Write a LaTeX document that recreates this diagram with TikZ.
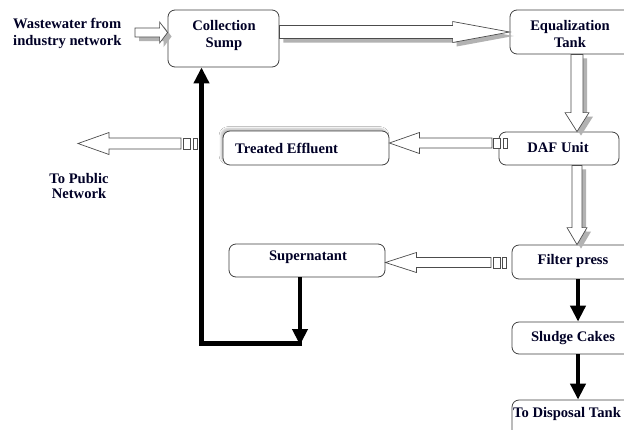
\documentclass[tikz,border=0pt]{standalone}
\usepackage{fontspec}
\setmainfont{Liberation Serif}
\usetikzlibrary{calc,arrows.meta,shadows.blur}
\tikzset{
  box/.style={draw=black!75, line width=0.8pt, rounded corners=7pt, fill=white, inner sep=0pt},
  lbl/.style={font=\bfseries\fontsize{14.6}{17}\selectfont, text=black!85!blue, inner sep=0pt, align=center},
  hollow/.style={draw=black!70, line width=0.7pt, fill=white, line join=miter},
  hshadow/.style={fill=black!30, draw=none},
  thickarrow/.style={line width=4.5pt, -{Triangle[width=15pt,length=16pt]}},
  thickline/.style={line width=4.5pt},
  tailbox/.style={draw=black!70, line width=0.7pt, fill=white, inner sep=0pt, minimum height=10pt},
}
\newcommand\mkblockarrow[6]{%
  \coordinate (ba-s) at (#2);
  \coordinate (ba-e) at (#3);
  \coordinate (ba-h) at ($(ba-e)!#6!(ba-s)$);
  \path[#1] ($(ba-s)!#4!90:(ba-e)$) -- ($(ba-h)!#4!-90:(ba-s)$) -- ($(ba-h)!#5!-90:(ba-s)$) -- (ba-e)
    -- ($(ba-h)!#5!90:(ba-s)$) -- ($(ba-h)!#4!90:(ba-s)$) -- ($(ba-s)!#4!-90:(ba-e)$) -- cycle;
}
\begin{document}
\begin{tikzpicture}[x=1pt,y=-1pt]
\clip (0,0) rectangle (624,429);
\fill[white] (0,0) rectangle (624,429);

% boxes
\node[box, minimum width=111pt, minimum height=57pt] (sump) at (223.5,38.5) {};
\node[box, minimum width=124pt, minimum height=44pt] (eq) at (572,32) {};
\node[box, minimum width=120pt, minimum height=33pt] (daf) at (559,148.5) {};
\node[box, minimum width=166pt, minimum height=34pt,
      blur shadow={shadow xshift=-2pt,shadow yshift=2.5pt,shadow opacity=25,shadow blur steps=6,shadow blur extra rounding=2pt}] (treat) at (306,148) {};
\node[box, minimum width=122pt, minimum height=34pt] (filt) at (573,262) {};
\node[box, minimum width=122pt, minimum height=32pt] (sludge) at (573,338) {};
\node[box, minimum width=122pt, minimum height=45pt] (disp) at (573,422.5) {};
\node[box, minimum width=156pt, minimum height=33pt] (super) at (307,260.5) {};

% texts
\node[lbl, anchor=west, align=left] (wwT) at (13,33.5) {Wastewater from\\industry network};
\node[lbl] (sumpT) at (224,35) {Collection\\Sump};
\node[lbl] (eqT) at (570,34.5) {Equalization\\Tank};
\node[lbl] (dafT) at (558,148) {DAF Unit};
\node[lbl, anchor=west] (treatT) at (235,148) {Treated Effluent};
\node[lbl] (filtT) at (573,261) {Filter press};
\node[lbl] (sludgeT) at (573,338) {Sludge Cakes};
\node[lbl, anchor=west] (dispT) at (513,414) {To Disposal Tank};
\node[lbl] (superT) at (308,257) {Supernatant};
\node[lbl, font=\bfseries\fontsize{14.6}{15.5}\selectfont] (pubT) at (79,186) {To Public\\Network};

% helper coordinates
\coordinate (inS) at (135,32.5);
\coordinate (vx) at (577,0);
\coordinate (t1) at (492,143);
\coordinate (p1) at (181,143.5);
\coordinate (p2) at (78,143.5);
\coordinate (f1) at (491,262.5);
\coordinate (bx) at (578,0);
\coordinate (c1) at (300,345);
\coordinate (c2) at (201.5,343.5);
\coordinate (c3) at (302,343.5);

% hollow arrow shadows
\begin{scope}[transform canvas={xshift=4pt,yshift=-4pt}]
  \mkblockarrow{hshadow}{inS}{sump.west |- inS}{4.5pt}{10.5pt}{8pt}
  \mkblockarrow{hshadow}{sump.east |- eq.west}{eq.west}{6.5pt}{10.5pt}{57pt}
  \mkblockarrow{hshadow}{vx |- eq.south}{vx |- daf.north}{6pt}{12pt}{19pt}
  \mkblockarrow{hshadow}{vx |- daf.south}{vx |- filt.north}{5pt}{10pt}{17pt}
\end{scope}

% hollow arrows
\mkblockarrow{hollow}{inS}{sump.west |- inS}{4.5pt}{10.5pt}{8pt}
\mkblockarrow{hollow}{sump.east |- eq.west}{eq.west}{6.5pt}{10.5pt}{57pt}
\mkblockarrow{hollow}{vx |- eq.south}{vx |- daf.north}{6pt}{12pt}{19pt}
\mkblockarrow{hollow}{vx |- daf.south}{vx |- filt.north}{5pt}{10pt}{17pt}
\mkblockarrow{hollow}{t1}{treat.east |- t1}{5pt}{10.5pt}{30pt}
\mkblockarrow{hollow}{p1}{p2}{5.5pt}{11pt}{31pt}
\mkblockarrow{hollow}{f1}{super.east |- f1}{5pt}{10pt}{31pt}

% tail boxes
\node[tailbox, minimum width=6.5pt] (tq1) at (497,143) {};
\node[tailbox, minimum width=4pt] (tq2) at (505,143) {};
\node[tailbox, minimum width=6.5pt, minimum height=11pt] (pq1) at (187,143.5) {};
\node[tailbox, minimum width=4pt, minimum height=11pt] (pq2) at (195,143.5) {};
\node[tailbox, minimum width=7pt, minimum height=11pt] (fq1) at (496.5,262.5) {};
\node[tailbox, minimum width=3.5pt, minimum height=11pt] (fq2) at (504.5,262.5) {};

% black arrows
\draw[thickarrow] (bx |- filt.south) -- (bx |- sludge.north);
\draw[thickarrow] (bx |- sludge.south) -- (bx |- disp.north);
\draw[thickarrow] (super.south -| c1) -- (c1);
\draw[thickline] (c3) -- (c2);
\draw[thickarrow] ($(c2)+(0,2.25)$) -- (sump.south -| c2);
\end{tikzpicture}
\end{document}
